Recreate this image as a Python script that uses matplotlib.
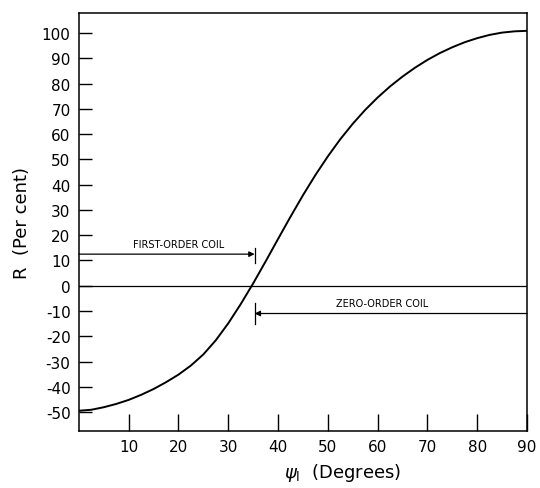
import matplotlib
matplotlib.use("Agg")
import matplotlib.pyplot as plt

# Data
psi_deg = [0, 2.5, 5, 7.5, 10, 12.5, 15, 17.5, 20, 22.5, 25, 27.5, 30, 32.5, 35, 37.5,
           40, 42.5, 45, 47.5, 50, 52.5, 55, 57.5, 60, 62.5, 65, 67.5, 70, 72.5, 75,
           77.5, 80, 82.5, 85, 87.5, 90]
r_percent = [-49.5, -49.1, -48.1, -46.8, -45.2, -43.2, -40.9, -38.2, -35.2, -31.6, -27.2,
             -21.6, -14.9, -7.3, 0.9, 9.6, 18.5, 27.3, 35.8, 43.8, 51.2, 58.0, 64.1, 69.6,
             74.5, 78.9, 82.8, 86.3, 89.4, 92.1, 94.4, 96.4, 98.0, 99.3, 100.2, 100.7, 100.9]

x_ticks = [10, 20, 30, 40, 50, 60, 70, 80, 90]
y_ticks = [-50, -40, -30, -20, -10, 0, 10, 20, 30, 40, 50, 60, 70, 80, 90, 100]

coil_boundary = 35.3
first_order_level = 12.5
zero_order_level = -11
first_label = "FIRST-ORDER COIL"
zero_label = "ZERO-ORDER COIL"

plt.rcParams['font.family'] = ['DejaVu Sans']

fig = plt.figure(figsize=(5.4, 4.89), dpi=100)
ax = fig.add_axes([0.146, 0.1166, 0.830, 0.855])

ax.plot(psi_deg, r_percent, color='black', lw=1.4, solid_joinstyle='round')

ax.set_xlim(0, 90)
ax.set_ylim(-57.5, 108)

ax.axhline(0, color='black', lw=0.9)

# first-order coil arrow
ax.annotate('', xy=(coil_boundary, first_order_level), xytext=(0, first_order_level),
            arrowprops=dict(arrowstyle='-|>', color='black', lw=0.9,
                            shrinkA=0, shrinkB=0, mutation_scale=8))
ax.plot([coil_boundary, coil_boundary], [first_order_level - 3.5, first_order_level + 2.5],
        color='black', lw=0.9)
ax.text(20, first_order_level + 2.2, first_label, ha='center', va='bottom', fontsize=7)

# zero-order coil arrow
ax.annotate('', xy=(coil_boundary, zero_order_level), xytext=(90, zero_order_level),
            arrowprops=dict(arrowstyle='-|>', color='black', lw=0.9,
                            shrinkA=0, shrinkB=0, mutation_scale=8))
ax.plot([coil_boundary, coil_boundary], [zero_order_level - 4, zero_order_level + 4],
        color='black', lw=0.9)
ax.text(61, zero_order_level + 2.0, zero_label, ha='center', va='bottom', fontsize=7)

ax.set_xticks(x_ticks)
ax.set_xticklabels([str(t) for t in x_ticks], fontsize=11)
ax.set_yticks(y_ticks)
ax.set_yticklabels([str(t) for t in y_ticks], fontsize=11)
ax.tick_params(axis='x', direction='in', length=12, width=1.0, pad=6)
ax.tick_params(axis='y', direction='in', length=9, width=1.0, pad=6)

for s in ax.spines.values():
    s.set_linewidth(1.1)

ax.set_ylabel('R  (Per cent)', fontsize=13, labelpad=8)
ax.text(41.2, -0.097, r'$\psi_{\mathrm{l}}$  (Degrees)', transform=ax.get_xaxis_transform(),
        ha='left', va='center', fontsize=13)

fig.savefig('out.png', dpi=100)
